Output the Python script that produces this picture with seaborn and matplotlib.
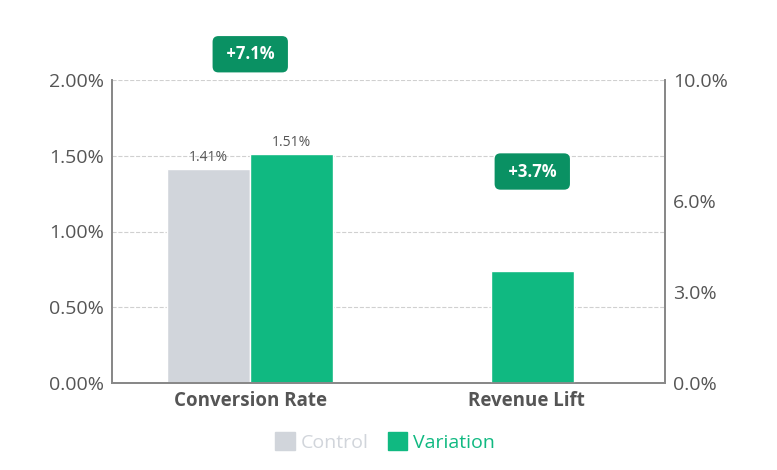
import matplotlib
matplotlib.use("Agg")
import matplotlib.pyplot as plt
import seaborn as sns
import pandas as pd
from matplotlib.patches import Patch

sns.set_theme(style="white")
plt.rcParams['font.family'] = ['Open Sans', 'DejaVu Sans']

categories = ["Conversion Rate", "Revenue Lift"]
control_cr = 1.41
variation_cr = 1.51
revenue_lift = 3.7
badges = ["+7.1%", "+3.7%"]
left_ticks = [0, 0.5, 1.0, 1.5, 2.0]
right_ticks = [0, 3, 6, 10]

GRAY = "#d1d5db"
GREEN = "#10b981"
DARK = "#0a9163"
TXT = "#555555"

fig = plt.figure(figsize=(7.77, 4.70), dpi=100)
ax = fig.add_axes([112/777, 1-383/470, 553/777, 303/470])
ax2 = ax.twinx()

w = 0.3
ax.bar(0.5 - w/2, control_cr, width=w, color=GRAY)
ax.bar(0.5 + w/2, variation_cr, width=w, color=GREEN)
ax2.bar(1.52, revenue_lift, width=w, color=GREEN)

ax.set_xlim(0, 2)
ax.set_ylim(0, 2.0)
ax2.set_ylim(0, 10)
ax.set_yticks(left_ticks)
ax.set_yticklabels([f"{v:.2f}%" for v in left_ticks])
ax2.set_yticks(right_ticks)
ax2.set_yticklabels([f"{v:.1f}%" for v in right_ticks])
ax.set_xticks([0.5, 1.5])
ax.set_xticklabels(categories, fontweight="bold", fontsize=13.5, color=TXT)
for a in (ax, ax2):
    a.tick_params(axis="y", labelsize=14, labelcolor=TXT, length=0, pad=6)
ax.tick_params(axis="x", length=0, pad=6)
ax.yaxis.grid(True, linestyle="--", color="#d0d0d0", linewidth=0.8)
ax.set_axisbelow(True)
for a in (ax, ax2):
    a.spines["top"].set_visible(False)
    for s in ("left", "right", "bottom"):
        a.spines[s].set_color("#888888")

ax.text(0.5 - w/2, control_cr + 0.03, f"{control_cr:.2f}%", ha="center", va="bottom", fontsize=10, color=TXT)
ax.text(0.5 + w/2, variation_cr + 0.03, f"{variation_cr:.2f}%", ha="center", va="bottom", fontsize=10, color=TXT)

bbox = dict(boxstyle="round,pad=0.55,rounding_size=0.35", fc=DARK, ec="none")
ax.text(0.5, 2.17, " " + badges[0] + " ", ha="center", va="center", fontsize=12, fontweight="bold",
        color="white", bbox=bbox, clip_on=False)
ax2.text(1.52, 6.98, " " + badges[1] + " ", ha="center", va="center", fontsize=12, fontweight="bold",
         color="white", bbox=bbox)

handles = [Patch(color=GRAY, label="Control"), Patch(color=GREEN, label="Variation")]
leg = fig.legend(handles=handles, loc="center", bbox_to_anchor=(385/777, 1-442/470), ncol=2,
                 frameon=False, fontsize=14, handlelength=1.0, handleheight=1.0,
                 handletextpad=0.3, columnspacing=1.0)
for t, c in zip(leg.get_texts(), [GRAY, GREEN]):
    t.set_color(c)

fig.savefig("out.png", dpi=100)
